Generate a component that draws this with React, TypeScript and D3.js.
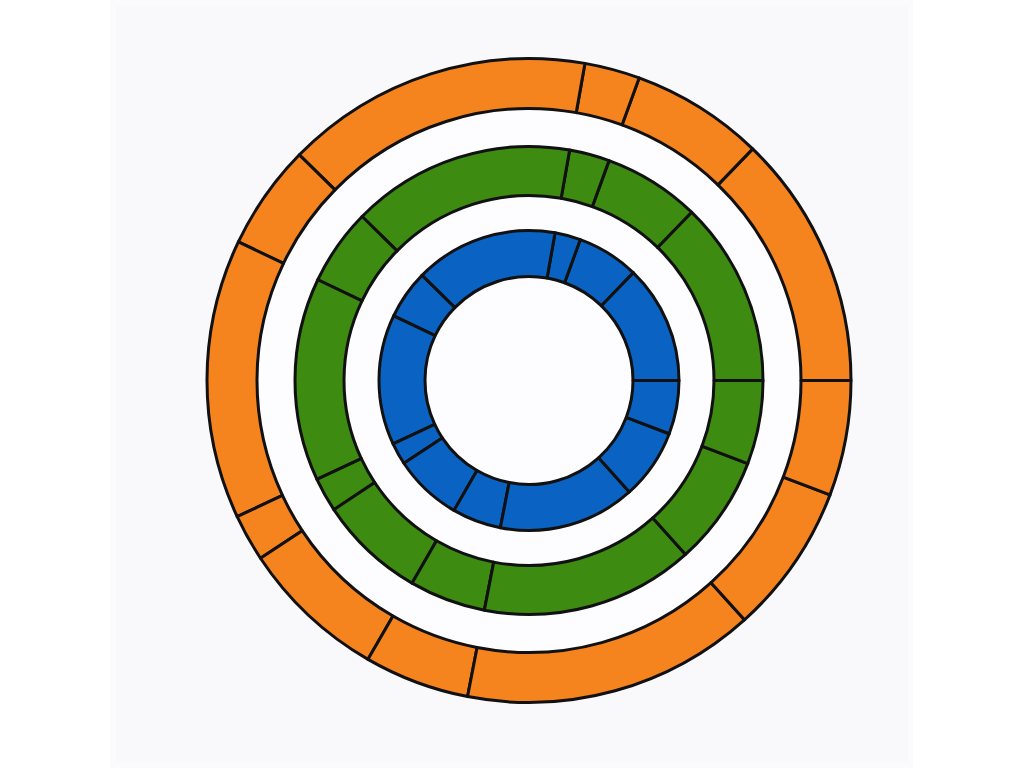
import { useEffect, useRef } from 'react'
import * as d3 from 'd3'

// segment sizes, listed counterclockwise starting at 3 o'clock
const SEGMENTS = ['s1', 's2', 's3', 's4', 's5', 's6', 's7', 's8', 's9', 's10', 's11', 's12']
const innerValues = [46, 24, 10, 55.5, 19, 50.5, 8.5, 26.5, 19, 53, 27.2, 20.8]
const middleValues = [46, 24, 10, 55.5, 19, 50.5, 8.5, 26.5, 19, 53, 27.2, 20.8]
const outerValues = [46, 24, 10, 55.5, 19, 50.5, 8.5, 26.5, 19, 53, 27.2, 20.8]

const RING_COLORS = ['#0a63c2', '#3d8b10', '#f5841f']

const WIDTH = 1024
const HEIGHT = 768

interface RingDatum {
  values: number[]
  inner: number
  outer: number
  color: string
}

export default function App() {
  const svgRef = useRef<SVGSVGElement | null>(null)

  useEffect(() => {
    if (!svgRef.current) {
      return
    }

    const svg = d3.select(svgRef.current)
    svg.selectAll('*').remove()

    svg.append('rect').attr('width', WIDTH).attr('height', HEIGHT).attr('fill', '#ffffff')
    svg
      .append('rect')
      .attr('x', 110)
      .attr('y', 0)
      .attr('width', 803)
      .attr('height', HEIGHT)
      .attr('fill', '#fbfbfd')
    svg
      .append('rect')
      .attr('x', 116)
      .attr('y', 6)
      .attr('width', 792)
      .attr('height', 756)
      .attr('fill', '#f9f9fc')

    const root = svg.append('g').attr('transform', 'translate(529, 380.5)')

    const rings: RingDatum[] = [
      { values: innerValues, inner: 104, outer: 150, color: RING_COLORS[0] },
      { values: middleValues, inner: 185, outer: 234, color: RING_COLORS[1] },
      { values: outerValues, inner: 272, outer: 322, color: RING_COLORS[2] },
    ]

    const pie = d3
      .pie<number>()
      .sort(null)
      .value((d: number) => d)
      .startAngle(Math.PI / 2)
      .endAngle(Math.PI / 2 - Math.PI * 2)

    // white band behind the ring gaps
    root
      .append('circle')
      .attr('r', 322)
      .attr('fill', '#fdfdff')

    rings.forEach((ring, ringIndex) => {
      const arc = d3
        .arc<d3.PieArcDatum<number>>()
        .innerRadius(ring.inner)
        .outerRadius(ring.outer)

      root
        .append('g')
        .attr('class', `ring-${ringIndex}`)
        .selectAll('path')
        .data(pie(ring.values))
        .enter()
        .append('path')
        .attr('d', (d: d3.PieArcDatum<number>) => arc(d) ?? '')
        .attr('fill', ring.color)
        .attr('stroke', '#111111')
        .attr('stroke-width', 3)
        .attr('stroke-linejoin', 'round')
        .append('title')
        .text((_: d3.PieArcDatum<number>, i: number) => SEGMENTS[i])
    })
  }, [])

  return (
    <svg
      ref={svgRef}
      width={WIDTH}
      height={HEIGHT}
      style={{ position: 'fixed', left: 0, top: 0, display: 'block' }}
      role="img"
      aria-label="Three concentric segmented rings"
    />
  )
}
